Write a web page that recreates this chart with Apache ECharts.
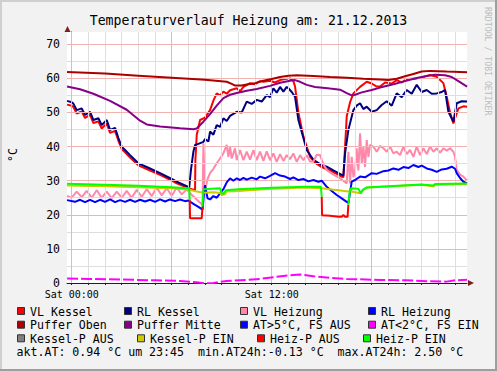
<!DOCTYPE html>
<html><head><meta charset="utf-8">
<script src="https://cdn.jsdelivr.net/npm/echarts@6/dist/echarts.min.js"></script>
<style>html,body{margin:0;padding:0;background:#f2f2f2}#c{width:497px;height:371px}</style>
</head><body><div id="c"></div>
<script>
// ---------- texts & ticks ----------
const chartTitle = 'Temperaturverlauf Heizung am: 21.12.2013';
const unitLabel = '°C';
const watermark = 'RRDTOOL / TOBI OETIKER';
const xTickValues = [0, 12];
const xTickLabels = ['Sat 00:00', 'Sat 12:00'];
const yTickValues = [0, 10, 20, 30, 40, 50, 60, 70];
const xRange = [-0.2833, 23.7167];   // hours, Sat 00:00 = 0
const yRange = [0, 73.6];
const hourGrid = [0,1,2,3,4,5,6,7,8,9,10,11,12,13,14,15,16,17,18,19,20,21,22,23];
const majorHours = [0, 6, 12, 18];
const yMinor = [5, 15, 25, 35, 45, 55, 65];
const yMajor = [10, 20, 30, 40, 50, 60, 70];
const statsText = 'akt.AT: 0.94 °C um 23:45\u00a0\u00a0min.AT24h:-0.13 °C\u00a0\u00a0max.AT24h: 2.50 °C';

// ---------- series values: [hour, °C] ----------
const vlKessel = [[-0.28,52.3],[0.0,52.0],[0.1,51.6],[0.3,49.7],[0.6,50.3],[0.8,48.4],[1.1,49.3],[1.3,46.9],[1.6,47.4],[1.8,45.3],[2.1,46.8],[2.3,44.0],[2.6,44.6],[2.8,41.7],[3.0,39.3],[3.2,38.3],[3.5,36.8],[4.0,34.5],[4.6,33.2],[5.3,31.7],[6.0,30.0],[6.3,29.2],[7.0,27.8],[7.4,27.2],[7.42,36],[7.5,43.4],[7.7,47.8],[8.0,48.5],[8.3,50.7],[8.5,53.5],[8.7,55.6],[8.9,55.0],[9.1,56.1],[9.3,55.5],[9.5,56.5],[9.9,57.1],[10.1,56.2],[10.3,57.5],[10.5,58.0],[10.7,58.6],[11.0,58.3],[11.3,59.2],[11.5,59.0],[11.9,59.3],[12.2,58.8],[12.5,59.5],[12.8,59.8],[13.1,60.0],[13.3,59.2],[13.4,57.6],[13.6,50],[13.9,43],[14.3,37.0],[14.6,35.3],[15.0,34.0],[15.5,33.0],[16.2,31.2],[16.3,31.0],[16.4,40],[16.5,48.8],[16.7,53],[16.9,55.6],[17.3,57.5],[17.7,59.0],[18.0,58.5],[18.3,57.6],[18.5,57.6],[18.8,58.8],[19.2,58.5],[19.5,59.5],[19.8,58.8],[20.1,59.8],[20.7,60.0],[21.0,60.3],[21.5,61.0],[21.9,60.5],[22.3,58.6],[22.5,54.6],[22.7,50],[22.9,46.8],[23.2,51.2],[23.5,51.8],[23.72,51.7]];
const rlKessel = [[-0.28,53.4],[0.0,53.0],[0.1,52.6],[0.3,50.7],[0.6,51.2],[0.8,49.3],[1.1,50.2],[1.3,47.8],[1.6,48.3],[1.8,46.3],[2.1,47.8],[2.3,44.9],[2.6,45.5],[2.8,42.5],[3.0,40.0],[3.2,39.0],[3.5,37.5],[4.0,35.1],[4.6,33.8],[5.3,32.2],[6.0,30.5],[6.3,29.7],[7.0,28.2],[7.05,28.0],[7.15,33],[7.3,38.5],[7.4,40.5],[7.6,40.8],[7.9,41.4],[8.0,42.2],[8.2,41.5],[8.3,44.4],[8.5,43.5],[8.7,46.3],[8.9,45.8],[9.1,48.3],[9.3,47.5],[9.5,49.0],[9.9,50.2],[10.2,50.0],[10.5,53.2],[10.8,52.5],[11.1,53.7],[11.4,53.2],[11.7,55.1],[11.9,54.5],[12.1,57.1],[12.3,55.8],[12.5,57.5],[12.7,56.1],[12.9,57.5],[13.0,57.1],[13.2,56.0],[13.4,54.6],[13.6,47.8],[13.9,42.5],[14.1,39.0],[14.5,36.1],[15.0,34.6],[15.3,34.1],[15.7,33.0],[16.2,31.7],[16.3,31.5],[16.4,38],[16.6,44.9],[16.9,50.7],[17.1,52.0],[17.3,52.7],[17.5,51.0],[17.7,51.7],[18.0,50.2],[18.3,50.7],[18.6,52.2],[18.9,53.3],[19.2,52.0],[19.5,55.6],[19.8,54.5],[20.1,56.6],[20.4,55.5],[20.7,58.1],[21.0,56.0],[21.3,56.6],[21.6,55.5],[21.9,55.6],[22.2,56.0],[22.4,56.6],[22.6,50.2],[22.9,47.3],[23.1,52.7],[23.4,53.3],[23.72,53.2]];
const vlHeizung = [[-0.28,25.5],[0.0,25.0],[0.3,26.8],[0.6,25.2],[0.9,27.0],[1.2,25.0],[1.5,27.2],[1.8,25.0],[2.1,26.8],[2.4,24.9],[2.7,26.8],[3.0,25.0],[3.3,27.0],[3.6,25.0],[3.9,27.3],[4.2,25.3],[4.5,27.5],[4.8,25.5],[5.1,28.0],[5.4,25.7],[5.7,27.8],[6.0,25.6],[6.3,28.0],[6.6,26.0],[6.9,27.5],[7.1,26.3],[7.5,24.5],[7.85,22.9],[7.9,41.0],[7.95,33],[8.0,27.3],[8.15,30.5],[8.3,32.2],[8.5,33.5],[8.7,35.1],[8.9,36.5],[9.1,38.0],[9.3,40.5],[9.4,37],[9.5,40],[9.6,36.5],[9.8,39.5],[9.9,36],[10.1,39],[10.3,36],[10.5,38.5],[10.7,36.2],[10.9,39],[11.1,36],[11.3,38.5],[11.5,35.8],[11.7,38.6],[11.9,36],[12.1,38.0],[12.3,35.5],[12.5,37.8],[12.7,35.8],[12.9,37.5],[13.1,36.3],[13.3,38.0],[13.5,35.5],[13.7,37.5],[13.9,36.0],[14.1,37.5],[14.3,35.6],[14.5,35.6],[14.7,37.6],[14.9,37.5],[15.1,34.8],[15.3,33.1],[15.7,31.8],[16.1,30.7],[16.5,29.2],[16.6,38.5],[16.7,29.2],[16.8,37.0],[16.9,31.0],[17.0,33.1],[17.1,39.5],[17.2,33.0],[17.3,43.9],[17.4,35],[17.5,40.0],[17.6,34],[17.7,41.9],[17.8,37],[17.9,40.5],[18.1,40.0],[18.3,38.5],[18.5,40.2],[18.7,39.5],[18.9,38.5],[19.1,40.0],[19.3,38.0],[19.5,38.5],[19.7,37.5],[19.9,40.0],[20.1,37.8],[20.3,39.0],[20.5,37.0],[20.7,40.0],[20.9,37.5],[21.1,39.5],[21.3,37.8],[21.5,40.0],[21.7,38.5],[21.9,39.5],[22.1,38.2],[22.3,39.5],[22.5,38.8],[22.7,39.5],[22.9,38.5],[23.0,37.0],[23.1,33.1],[23.3,31.8],[23.5,31.2],[23.72,30.0]];
const rlHeizung = [[-0.28,24.3],[0.2,23.8],[0.5,24.4],[0.8,23.7],[1.1,24.4],[1.4,23.7],[1.7,24.4],[2.0,23.8],[2.3,24.5],[2.6,23.7],[2.9,24.3],[3.2,23.8],[3.5,24.4],[3.8,23.8],[4.1,24.4],[4.4,23.9],[4.7,24.4],[5.0,23.8],[5.3,24.5],[5.6,23.9],[5.9,24.5],[6.2,24.0],[6.5,24.5],[6.8,24.0],[7.0,24.2],[7.3,23.2],[7.6,22.3],[7.85,21.5],[7.95,27],[8.0,28.7],[8.15,24.8],[8.3,24.5],[8.5,25.5],[8.7,25.0],[8.9,26.3],[9.1,27.5],[9.3,29.5],[9.5,30.7],[9.7,30.0],[9.9,30.7],[10.1,30.2],[10.3,30.8],[10.5,30.3],[10.8,30.9],[11.1,30.4],[11.3,31.2],[11.6,30.7],[11.9,31.4],[12.2,32.2],[12.5,31.5],[12.8,31.2],[13.1,30.5],[13.3,31.0],[13.6,30.2],[13.9,30.5],[14.2,29.8],[14.5,30.2],[14.8,29.7],[15.0,30.0],[15.3,28.2],[15.6,27.0],[15.9,25.8],[16.2,24.8],[16.5,23.8],[16.6,23.5],[16.8,29.7],[17.0,30.2],[17.3,31.2],[17.6,31.0],[18.0,32.2],[18.3,32.0],[18.7,32.8],[19.0,33.0],[19.3,33.6],[19.6,33.2],[19.9,34.0],[20.2,33.7],[20.5,34.6],[20.8,34.0],[21.0,34.4],[21.3,33.6],[21.6,33.2],[21.9,32.6],[22.2,33.3],[22.5,33.5],[22.8,34.1],[23.0,33.5],[23.1,32.2],[23.3,30.8],[23.5,29.7],[23.72,29.2]];
const pufferOben = [[-0.28,61.9],[2,61.4],[4,60.8],[6,60.2],[8,59.6],[9.3,59.0],[9.6,58.4],[9.8,57.9],[10.2,57.9],[10.5,58.2],[11,58.6],[11.5,59.3],[12,59.8],[12.5,60.4],[13,60.8],[13.5,60.9],[14.5,60.7],[15.5,60.4],[16.5,60.2],[17.5,59.9],[18.5,59.7],[19,59.5],[19.5,59.9],[20,60.6],[20.5,61.3],[21,62.0],[21.5,62.2],[22.5,62.0],[23.72,61.8]];
const pufferMitte = [[-0.28,57.6],[0.5,56.8],[1.3,55.5],[2.3,53.4],[3.3,50.8],[4.1,47.6],[4.5,46.5],[5.3,45.9],[6.5,45.4],[7.3,45.1],[7.5,45.3],[7.9,47.3],[8.3,49.5],[8.7,52.0],[9.1,54.2],[9.5,55.2],[9.9,55.7],[10.5,56.4],[11.1,56.9],[11.9,57.8],[12.5,58.7],[13.1,59.3],[13.4,59.5],[13.7,59.0],[14.1,58.1],[14.6,57.5],[15.5,57.0],[16.1,56.7],[16.5,55.7],[16.8,55.0],[17.0,55.2],[17.4,55.9],[18.0,56.6],[18.5,57.3],[19.3,58.3],[20.0,59.2],[20.7,60.1],[21.3,60.7],[21.8,61.1],[22.4,60.9],[22.8,60.4],[23.2,59.2],[23.72,57.6]];
const atWarm = [];   // AT>5°C, FS AUS (not reached)
const atCold = [[-0.28,1.3],[1,1.2],[3,1.0],[5,0.8],[6.5,0.6],[7.5,0.2],[8.0,-0.1],[8.5,0.0],[9.3,0.6],[10.5,0.9],[11.3,1.2],[12.3,1.8],[13.0,2.2],[13.7,2.5],[14.5,2.0],[15.5,1.5],[16.5,1.2],[17.3,1.1],[18.5,0.9],[20.0,0.8],[21.5,0.5],[22.5,0.4],[23.0,0.8],[23.72,0.94]];
const kesselPAus = [];
const kesselPEin = [[-0.28,28.6],[2,28.4],[4,28.1],[6,27.8],[7.0,27.4],[7.5,26.8],[7.9,26.5],[8.5,26.6],[8.9,26.4],[9.0,25.8],[9.2,26.0],[9.3,26.8],[10,27.0],[12,27.6],[14,28.0],[15,27.8],[16,27.2],[16.6,26.8],[16.8,26.8],[17.3,26.3],[17.5,27.3],[17.7,28.0],[19,28.3],[21,28.8],[21.7,28.3],[21.8,28.8],[23.72,29.0]];
const heizPAus = [[7.08,24.3],[7.1,19.0],[7.8,19.0],[7.85,22.4],[7.9,null],[15.0,25.3],[15.02,19.9],[15.5,19.7],[16.0,19.4],[16.2,19.4],[16.3,20.0],[16.4,19.4],[16.55,19.4],[16.6,23.0]];
const heizPEin = [[-0.28,29.1],[2,28.8],[4,28.5],[6,28.1],[7.0,27.8],[7.05,27.8],[7.08,24.3],[7.1,null],[7.85,22.4],[7.9,27.5],[8.9,27.8],[9.0,26.3],[9.1,26.2],[9.25,27.2],[10,27.5],[12,27.9],[14,28.2],[14.95,28.2],[15.0,25.3],[15.05,null],[16.6,23.0],[16.7,27.5],[16.8,27.8],[17.2,27.6],[17.35,26.3],[17.45,27.3],[17.7,28.0],[19,28.4],[21,28.9],[21.7,28.6],[21.8,29.0],[23.72,29.2]];

const seriesNames = ['VL Kessel','RL Kessel','VL Heizung','RL Heizung','Puffer Oben','Puffer Mitte','AT>5°C, FS AUS','AT<2°C, FS EIN','Kessel-P AUS','Kessel-P EIN','Heiz-P AUS','Heiz-P EIN'];
const seriesColors = ['#FF0000','#000080','#FF88AA','#0000FF','#AA0000','#880088','#0000FF','#FF00FF','#808080','#CCCC00','#FF0000','#00FF00'];
const seriesData = [vlKessel, rlKessel, vlHeizung, rlHeizung, pufferOben, pufferMitte, atWarm, atCold, kesselPAus, kesselPEin, heizPAus, heizPEin];

// ---------- layout ----------
const FONT = 'DejaVu Sans Mono';
const legendBoxX = [[17,124,240,368],[17,124,240,368],[17,137,257,363]];
const legendRowY = [311.5, 325.2, 338.8];
const statsY = 352.3;

const chart = echarts.init(document.getElementById('c'), null, {renderer: 'svg'});

const series = [];
series.push({type:'line', data:[], silent:true, z:1, animation:false,
  markLine:{silent:true, animation:false, symbol:['none','none'], label:{show:false}, emphasis:{disabled:true},
    lineStyle:{color:'#DEDEDE', width:1, type:'solid'},
    data: hourGrid.filter(h=>majorHours.indexOf(h)<0).map(h=>({xAxis:h})).concat(yMinor.map(v=>({yAxis:v})))}});
series.push({type:'line', data:[], silent:true, z:1, animation:false,
  markLine:{silent:true, animation:false, symbol:['none','none'], label:{show:false}, emphasis:{disabled:true},
    lineStyle:{color:'#F3B2B2', width:1, type:'solid'},
    data: majorHours.map(h=>({xAxis:h})).concat(yMajor.map(v=>({yAxis:v})))}});
seriesNames.forEach((n,i)=>{
  series.push({type:'line', name:n, data:seriesData[i], showSymbol:false, symbol:'none', z:2+i, animation:false,
    connectNulls:false, silent:true,
    lineStyle:{color:seriesColors[i], width:2, type: i===7 ? [11,3] : 'solid'}, itemStyle:{color:seriesColors[i]}});
});

const graphic = [];
// frame shading
graphic.push({type:'rect', shape:{x:0,y:0,width:497,height:2}, style:{fill:'#CFCFCF'}});
graphic.push({type:'rect', shape:{x:0,y:0,width:2,height:371}, style:{fill:'#CFCFCF'}});
graphic.push({type:'rect', shape:{x:0,y:369,width:497,height:2}, style:{fill:'#9E9E9E'}});
graphic.push({type:'rect', shape:{x:495,y:0,width:2,height:371}, style:{fill:'#9E9E9E'}});
// arrows
graphic.push({type:'polygon', shape:{points:[[67.5,26],[64.5,32],[70.5,32]]}, style:{fill:'#801F1F'}, z:50});
graphic.push({type:'polygon', shape:{points:[[474,283],[468,280],[468,286]]}, style:{fill:'#801F1F'}, z:50});
// unit & watermark
graphic.push({type:'text', x:12.5, y:155, rotation:Math.PI/2, style:{text:unitLabel, font:'11.5px "'+FONT+'"', fill:'#000', align:'center', verticalAlign:'middle'}});
graphic.push({type:'text', x:487.5, y:7, rotation:-Math.PI/2, style:{text:watermark, font:'8.2px "'+FONT+'"', fill:'#BDBDBD', align:'left', verticalAlign:'middle'}});
// legend
seriesNames.forEach((n,i)=>{
  const r = Math.floor(i/4), c = i%4;
  const bx = legendBoxX[r][c], cy = legendRowY[r];
  graphic.push({type:'rect', shape:{x:bx+0.5, y:cy-4, width:7, height:7}, style:{fill:seriesColors[i], stroke:'#333', lineWidth:1}});
  graphic.push({type:'text', x:bx+13, y:cy, style:{text:n, font:'11.6px "'+FONT+'"', fill:'#000', align:'left', verticalAlign:'middle'}});
});
graphic.push({type:'text', x:16.5, y:statsY, style:{text:statsText, font:'11.6px "'+FONT+'"', fill:'#000', align:'left', verticalAlign:'middle'}});

chart.setOption({
  backgroundColor:'#F2F2F2',
  animation:false,
  title:{text:chartTitle, left:'center', top:9, textStyle:{fontFamily:FONT, fontSize:13.2, fontWeight:'normal', color:'#000'}},
  grid:{left:67, right:30, top:32, bottom:88, show:true, backgroundColor:'#FFFFFF', borderWidth:0},
  xAxis:{type:'value', min:xRange[0], max:xRange[1],
    axisLine:{show:true, onZero:false, lineStyle:{color:'#1F1F1F', width:1}},
    axisTick:{show:true, customValues:hourGrid, length:2, lineStyle:{color:'#1F1F1F'}},
    axisLabel:{customValues:xTickValues, formatter:v=>xTickLabels[xTickValues.indexOf(v)], fontFamily:FONT, fontSize:10, color:'#000', margin:6},
    splitLine:{show:false}},
  yAxis:{type:'value', min:yRange[0], max:yRange[1],
    axisLine:{show:true, lineStyle:{color:'#1F1F1F', width:1}},
    axisTick:{show:true, customValues:yMinor.concat(yMajor), length:2, lineStyle:{color:'#1F1F1F'}},
    axisLabel:{customValues:yTickValues, fontFamily:FONT, fontSize:11.5, color:'#000', margin:7},
    splitLine:{show:false}},
  series: series,
  graphic: graphic
});
</script></body></html>
